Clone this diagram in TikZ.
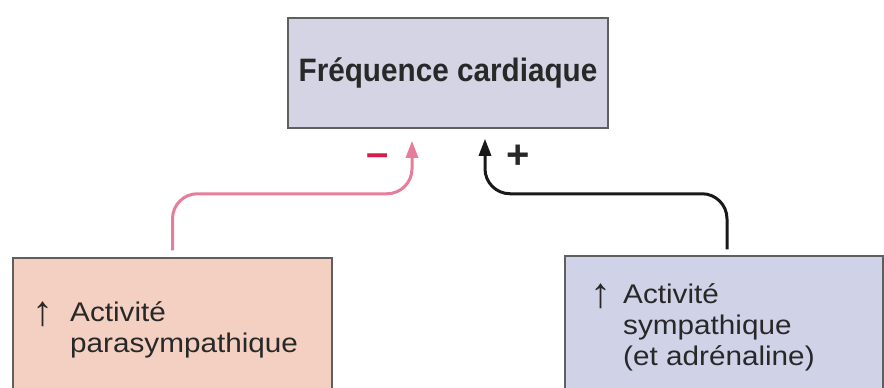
\documentclass[tikz,border=0pt]{standalone}
\usepackage{fontspec}
\setmainfont{Liberation Sans}
\usetikzlibrary{arrows.meta,calc}
\definecolor{topfill}{RGB}{212,212,228}
\definecolor{leftfill}{RGB}{243,208,194}
\definecolor{rightfill}{RGB}{208,211,232}
\definecolor{boxline}{RGB}{95,95,95}
\definecolor{pinkline}{RGB}{230,125,155}
\definecolor{minusred}{RGB}{210,30,75}
\definecolor{txt}{RGB}{40,40,40}
\newcommand\widetxt[1]{\scalebox{1.1}[1]{#1}}
\begin{document}
\begin{tikzpicture}[x=1pt,y=-1pt,
  box/.style={draw=boxline,line width=1.5pt,inner sep=0pt},
  label/.style={anchor=base west,inner sep=0pt,text=txt,font=\fontsize{27}{31}\selectfont},
  uparr/.style={anchor=base,inner sep=0pt,text=txt,font=\fontsize{42}{42}\selectfont},
  conn/.style={line width=3pt,rounded corners=25pt,-{Triangle[length=17pt,width=12pt]}},
  sign/.style={anchor=base,inner sep=0pt,font=\bfseries\fontsize{40}{40}\selectfont}]
\clip (0,0) rectangle (884,388);
\node[box,fill=topfill,minimum width=320pt,minimum height=110pt,
      font=\bfseries\fontsize{30}{30}\selectfont,text=txt] (fc) at (448,73) {\scalebox{0.99}[1.08]{Fréquence cardiaque}};
\node[box,fill=leftfill,minimum width=319pt,minimum height=142pt] (pl) at (172.5,329) {};
\node[box,fill=rightfill,minimum width=318pt,minimum height=144pt] (pr) at (724,328) {};
\node[uparr] (la) at (43,325) {↑};
\node[label] (l1) at (70,321) {\widetxt{Activité}};
\node[label] (l2) at (70,352) {\widetxt{parasympathique}};
\node[uparr] (ra) at (601,307) {↑};
\node[label] (r1) at (623,303) {\widetxt{Activité}};
\node[label] (r2) at (623,334) {\widetxt{sympathique}};
\node[label] (r3) at (623,365) {\widetxt{(et adrénaline)}};
\coordinate (ps) at ($(pl.north)+(0,-7)$);
\coordinate (pe) at ($(fc.south)+(-36,12)$);
\draw[conn,pinkline] (ps) |- ($(pe)+(0,53)$) -- (pe);
\coordinate (bs) at ($(pr.north)+(3,-6)$);
\coordinate (be) at ($(fc.south)+(37,10)$);
\draw[conn,black!90] (bs) |- ($(be)+(0,55)$) -- (be);
\node[sign,text=minusred] (minus) at (378,166) {–};
\node[sign,text=txt] (plus) at (518,168) {+};
\end{tikzpicture}
\end{document}
